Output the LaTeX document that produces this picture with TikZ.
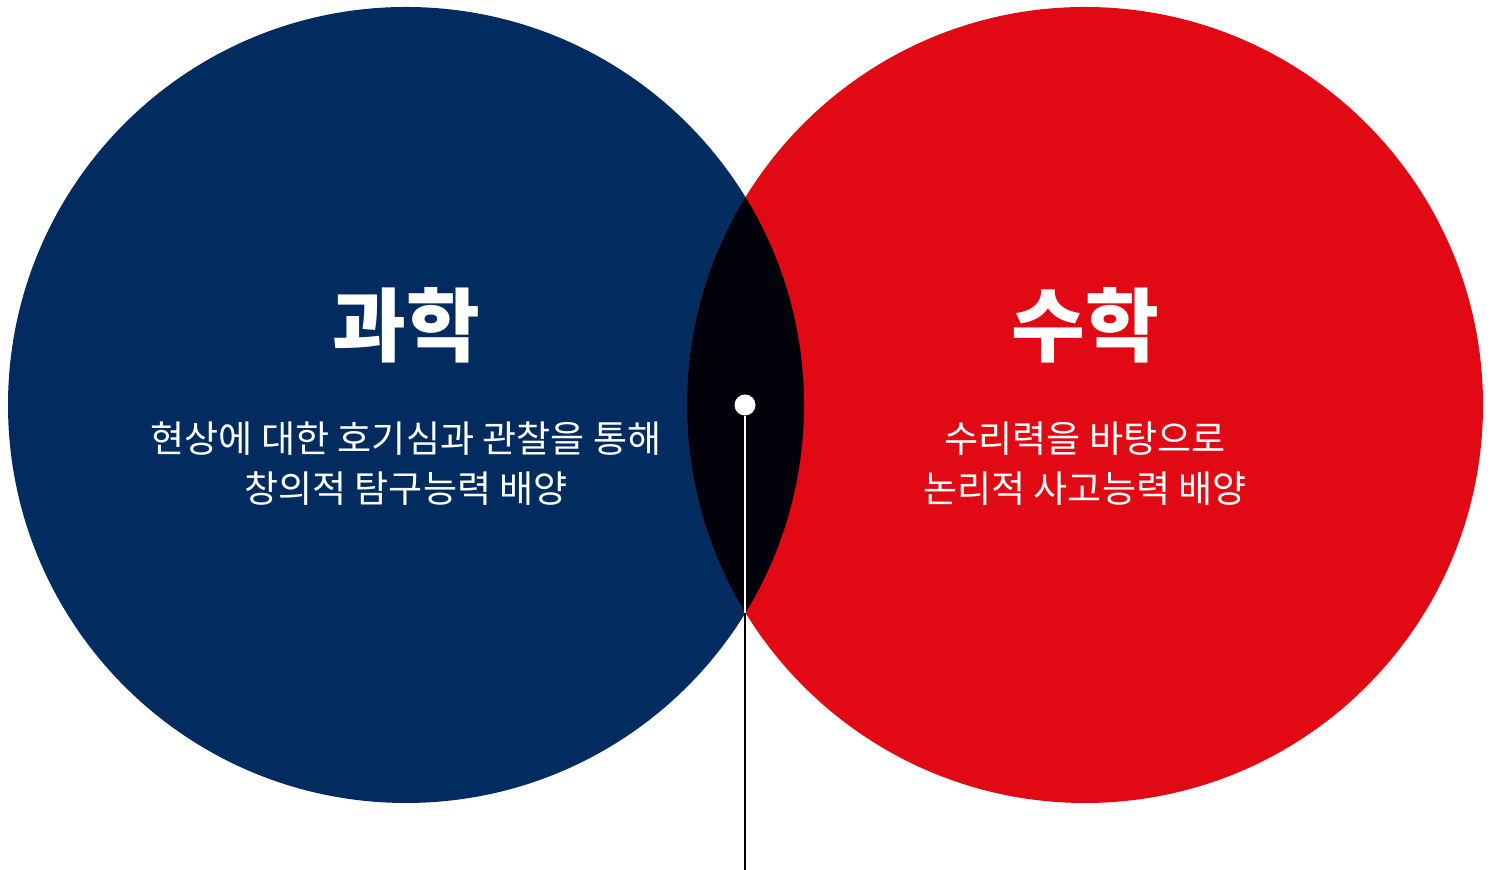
\documentclass[tikz,border=0pt]{standalone}
\usepackage{fontspec}
\newfontfamily\krfont{Noto Sans CJK KR}
\usepackage{xcolor}
\definecolor{sciblue}{RGB}{2,44,96}
\definecolor{mathred}{RGB}{225,9,19}
\definecolor{overlap}{RGB}{2,3,10}

\begin{document}
\begin{tikzpicture}[
  field/.style={circle, minimum size=7.96cm, inner sep=0pt},
  title/.style={font=\krfont\bfseries\fontsize{22.8}{27}\selectfont, text=white},
  desc/.style={font=\krfont\fontsize{10.55}{14.2}\selectfont, text=white, align=center},
  pin/.style={line width=0.6pt},
]
  \useasboundingbox (0,0) rectangle (14.9,8.7);
  \node[field, fill=sciblue] (science) at (4.06,4.65) {};
  \node[field, fill=mathred] (math) at (10.85,4.65) {};
  \begin{scope}
    \clip (science.center) circle (3.98);
    \fill[overlap] (math.center) circle (3.98);
  \end{scope}
  \node[title] (scititle) at (4.06,5.45) {과학};
  \node[desc] (scidesc) at (4.06,4.06) {현상에 대한 호기심과 관찰을 통해\\창의적 탐구능력 배양};
  \node[title] (mathtitle) at (10.85,5.45) {수학};
  \node[desc] (mathdesc) at (10.85,4.06) {수리력을 바탕으로\\논리적 사고능력 배양};
  \node[circle, fill=white, minimum size=0.21cm, inner sep=0pt] (dot) at (7.45,4.65) {};
  \coordinate (meet) at (7.45,2.57);
  \coordinate (foot) at (7.45,0);
  \draw[pin, white] (dot) -- (meet);
  \draw[pin, black] (meet) -- (foot);
\end{tikzpicture}
\end{document}
